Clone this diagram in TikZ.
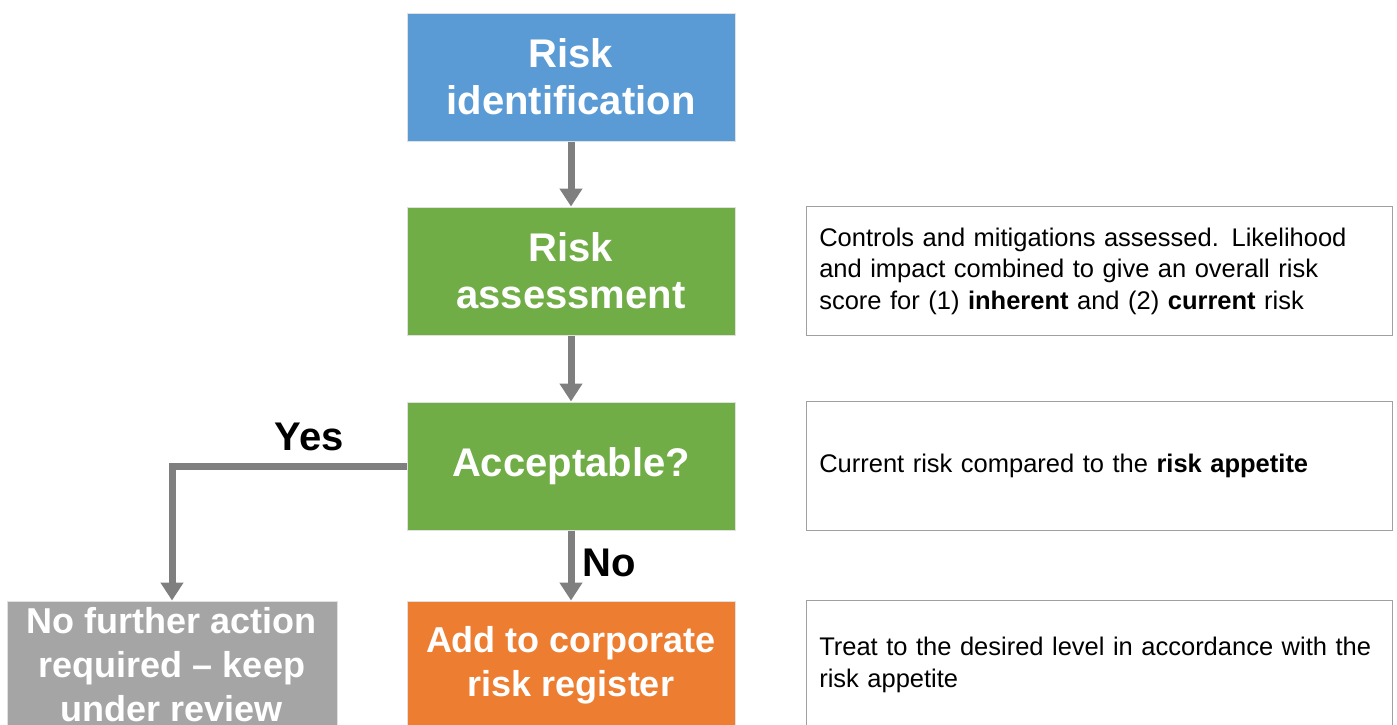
\documentclass[tikz,border=0pt]{standalone}
\usepackage{fontspec}
\setmainfont{Liberation Sans}
\definecolor{riskBlue}{RGB}{91,155,213}
\definecolor{riskGreen}{RGB}{112,173,71}
\definecolor{riskOrange}{RGB}{237,125,49}
\definecolor{riskGrey}{RGB}{165,165,165}
\definecolor{flowGrey}{RGB}{127,127,127}
\definecolor{noteGrey}{RGB}{160,160,160}
\usetikzlibrary{arrows.meta,positioning}
\newcommand{\notefont}{\fontsize{25.5}{31.5}\selectfont\setlength{\spaceskip}{0.34em}}

\begin{document}
\begin{tikzpicture}[
  x=1pt, y=-1pt,
  stage/.style={draw=black!12, line width=1pt, minimum width=328pt,
                minimum height=128pt, inner sep=0pt, align=center, text=white,
                font=\fontsize{40}{47}\selectfont\bfseries},
  small/.style={font=\fontsize{36}{44}\selectfont\bfseries},
  note/.style={draw=noteGrey, line width=1.5pt, text width=560pt,
               minimum height=129pt, inner sep=13pt, align=left,
               font=\notefont},
  flow/.style={-{Triangle[width=22pt,length=18pt]}, line width=7pt, flowGrey},
  tag/.style={font=\fontsize{40}{47}\selectfont\bfseries}
]
  \useasboundingbox (0,0) rectangle (1397,724);
  \clip (0,0) rectangle (1397,724);

  \node[stage, fill=riskBlue]                     (ident)  at (571,77) {Risk\\identification};
  \node[stage, fill=riskGreen, below=65pt of ident]   (assess) {Risk\\assessment};
  \node[stage, fill=riskGreen, below=66pt of assess]  (accept) {Acceptable?};
  \node[stage, small, fill=riskOrange, below=70pt of accept] (reg) {Add to corporate\\risk register};
  \node[stage, small, fill=riskGrey, minimum width=330pt, left=69pt of reg] (noact)
       {No further action\\required -- keep\\under review};

  \node[note, right=70pt of assess] (assessnote)
       {Controls and mitigations assessed. Likelihood\\
        and impact combined to give an overall risk\\
        score for (1) \textbf{inherent} and (2) \textbf{current} risk};
  \node[note, right=70pt of accept] (acceptnote)
       {Current risk compared to the \textbf{risk appetite}};
  \node[note, right=70pt of reg]    (regnote)
       {Treat to the desired level in accordance with the\\risk appetite};

  \draw[flow] (ident)  -- (assess);
  \draw[flow] (assess) -- (accept);
  \draw[flow] (accept) -- (reg);
  \draw[flow] (accept.west) -| (noact.north);

  \node[tag] (yes) at (309,437) {Yes};
  \node[tag] (no)  at (609,563) {No};
\end{tikzpicture}
\end{document}
